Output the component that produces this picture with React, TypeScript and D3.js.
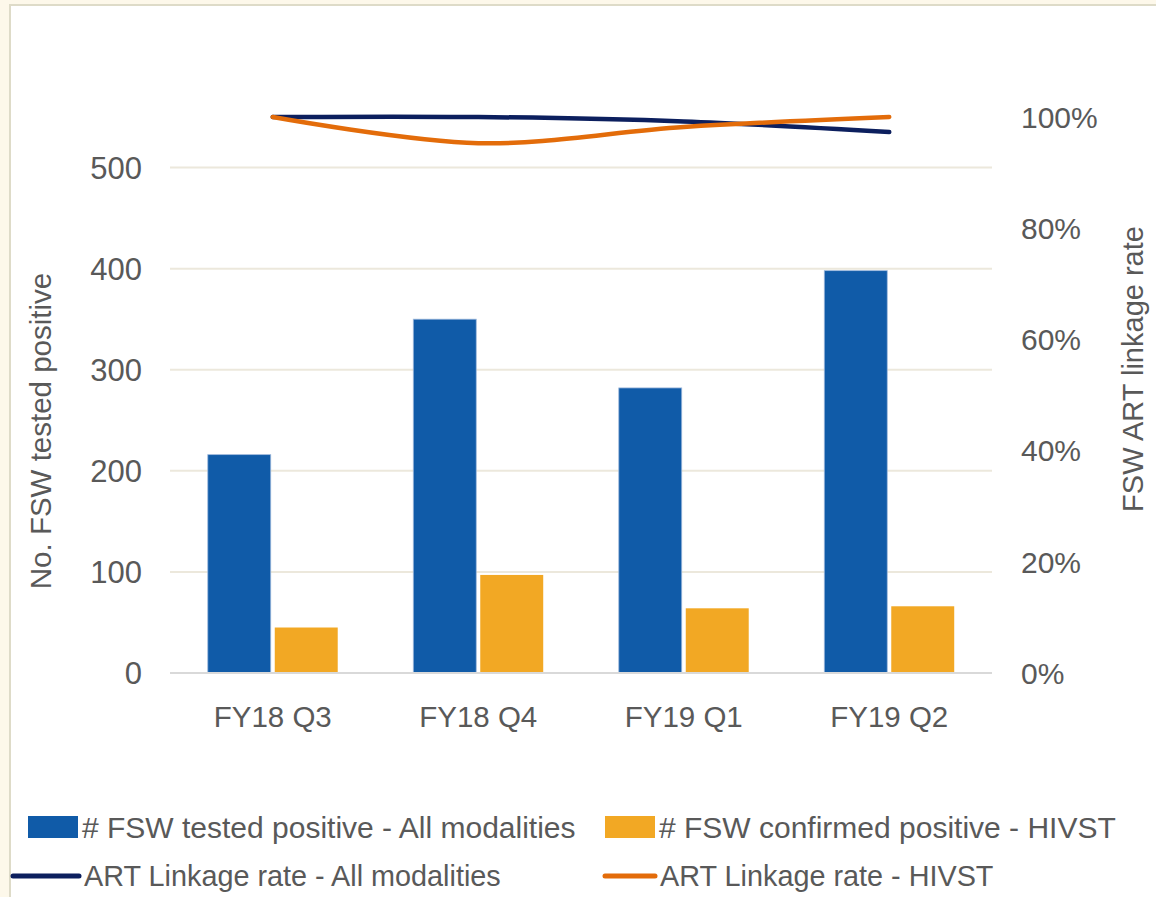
import React, { useEffect, useRef } from "react";
import * as d3 from "d3";

const categories = ["FY18 Q3", "FY18 Q4", "FY19 Q1", "FY19 Q2"];
const testedAll = [216, 350, 282, 398];
const confirmedHivst = [45, 97, 64, 66];
const linkageAll = [1.0, 1.0, 0.992, 0.973];
const linkageHivst = [1.0, 0.953, 0.982, 1.0];
const leftTicks = [0, 100, 200, 300, 400, 500];
const rightTicks = [0, 0.2, 0.4, 0.6, 0.8, 1.0];

const BLUE = "#105ba8";
const GOLD = "#f2a824";
const NAVY = "#0c1f5e";
const ORANGE = "#e36c0a";
const TEXT = "#595959";
const SANS = "'Liberation Sans', Arial, sans-serif";

const App = () => {
  const svgRef = useRef<SVGSVGElement>(null);

  useEffect(() => {
    document.body.style.margin = "0";
    const svg = d3.select(svgRef.current);
    svg.selectAll("*").remove();

    const width = 1156;
    const height = 897;
    svg.attr("width", width).attr("height", height);

    // frame
    svg.append("rect").attr("width", width).attr("height", height).attr("fill", "#fdf8ea");
    svg.append("rect")
      .attr("x", 10).attr("y", 5)
      .attr("width", width).attr("height", height)
      .attr("fill", "#fff")
      .attr("stroke", "#dedbc8")
      .attr("stroke-width", 2);

    const plotLeft = 170;
    const plotRight = 992;
    const plotTop = 117;
    const plotBottom = 673;

    // Scales
    const x = d3.scaleBand().domain(categories).range([plotLeft, plotRight]).padding(0);
    const xInner = d3.scaleBand()
      .domain(["all", "hivst"])
      .range([0, x.bandwidth()])
      .paddingInner(0.06)
      .paddingOuter(0.564);
    const yLeft = d3.scaleLinear().domain([0, 550]).range([plotBottom, plotTop]);
    const yRight = d3.scaleLinear().domain([0, 1]).range([plotBottom, plotTop]);

    // gridlines
    svg.append("g")
      .selectAll("line")
      .data(leftTicks.filter(d => d > 0))
      .enter()
      .append("line")
      .attr("x1", plotLeft).attr("x2", plotRight)
      .attr("y1", d => yLeft(d)).attr("y2", d => yLeft(d))
      .attr("stroke", "#ece8dc")
      .attr("stroke-width", 2);

    // bars
    const groups = svg.append("g")
      .selectAll("g")
      .data(categories)
      .enter()
      .append("g")
      .attr("transform", d => `translate(${x(d)},0)`);

    groups.append("rect")
      .attr("x", xInner("all")!)
      .attr("y", (d, i) => yLeft(testedAll[i]))
      .attr("width", xInner.bandwidth())
      .attr("height", (d, i) => plotBottom - yLeft(testedAll[i]))
      .attr("fill", BLUE)
      .attr("stroke", "#9fb9dc")
      .attr("stroke-width", 0.8);

    groups.append("rect")
      .attr("x", xInner("hivst")!)
      .attr("y", (d, i) => yLeft(confirmedHivst[i]))
      .attr("width", xInner.bandwidth())
      .attr("height", (d, i) => plotBottom - yLeft(confirmedHivst[i]))
      .attr("fill", GOLD);

    // bottom axis line
    svg.append("line")
      .attr("x1", plotLeft).attr("x2", plotRight)
      .attr("y1", plotBottom).attr("y2", plotBottom)
      .attr("stroke", "#d9d9d9")
      .attr("stroke-width", 2);

    // lines
    const cx = (d: string) => x(d)! + x.bandwidth() / 2;
    const line = d3.line<number>()
      .x((d, i) => cx(categories[i]))
      .y(d => yRight(d))
      .curve(d3.curveCatmullRom.alpha(0.5));

    svg.append("path")
      .attr("d", line(linkageAll))
      .attr("fill", "none")
      .attr("stroke", NAVY)
      .attr("stroke-width", 4.5)
      .attr("stroke-linecap", "round");

    svg.append("path")
      .attr("d", line(linkageHivst))
      .attr("fill", "none")
      .attr("stroke", ORANGE)
      .attr("stroke-width", 4.5)
      .attr("stroke-linecap", "round");

    // left ticks
    svg.append("g")
      .selectAll("text")
      .data(leftTicks)
      .enter()
      .append("text")
      .attr("x", 142)
      .attr("y", d => yLeft(d))
      .attr("dy", "0.36em")
      .attr("text-anchor", "end")
      .attr("font-family", SANS)
      .attr("font-size", 31)
      .attr("fill", TEXT)
      .text(d => d);

    // right ticks
    svg.append("g")
      .selectAll("text")
      .data(rightTicks)
      .enter()
      .append("text")
      .attr("x", 1021)
      .attr("y", d => yRight(d))
      .attr("dy", "0.36em")
      .attr("font-family", SANS)
      .attr("font-size", 30)
      .attr("fill", TEXT)
      .text(d => d3.format(".0%")(d));

    // category labels
    svg.append("g")
      .selectAll("text")
      .data(categories)
      .enter()
      .append("text")
      .attr("x", d => cx(d))
      .attr("y", 716)
      .attr("dy", "0.36em")
      .attr("text-anchor", "middle")
      .attr("font-family", SANS)
      .attr("font-size", 29.5)
      .attr("fill", TEXT)
      .text(d => d);

    // axis titles
    svg.append("text")
      .attr("transform", "translate(40,431) rotate(-90)")
      .attr("dy", "0.36em")
      .attr("text-anchor", "middle")
      .attr("font-family", SANS)
      .attr("font-size", 29.5)
      .attr("fill", TEXT)
      .text("No. FSW tested positive");

    svg.append("text")
      .attr("transform", "translate(1133,369) rotate(-90)")
      .attr("dy", "0.36em")
      .attr("text-anchor", "middle")
      .attr("font-family", SANS)
      .attr("font-size", 29)
      .attr("fill", TEXT)
      .text("FSW ART linkage rate");

    // legend
    const legend = svg.append("g");
    const legendItems = [
      { label: "# FSW tested positive - All modalities", color: BLUE, type: "bar", x: 28, y: 827, tx: 82, size: 30 },
      { label: "# FSW confirmed positive - HIVST", color: GOLD, type: "bar", x: 605, y: 827, tx: 659, size: 30 },
      { label: "ART Linkage rate - All modalities", color: NAVY, type: "line", x: 13, y: 876, tx: 84, size: 28.8 },
      { label: "ART Linkage rate - HIVST", color: ORANGE, type: "line", x: 605, y: 876, tx: 660, size: 28.8 },
    ];
    legendItems.forEach(item => {
      if (item.type === "bar") {
        legend.append("rect")
          .attr("x", item.x).attr("y", item.y - 11)
          .attr("width", 50).attr("height", 22)
          .attr("fill", item.color);
      } else {
        legend.append("line")
          .attr("x1", item.x).attr("x2", item.tx - 5)
          .attr("y1", item.y).attr("y2", item.y)
          .attr("stroke", item.color)
          .attr("stroke-width", 5)
          .attr("stroke-linecap", "round");
      }
      legend.append("text")
        .attr("x", item.tx)
        .attr("y", item.y)
        .attr("dy", "0.36em")
        .attr("font-family", SANS)
        .attr("font-size", item.size)
        .attr("fill", TEXT)
        .text(item.label);
    });
  }, []);

  return <svg ref={svgRef} style={{ display: "block" }}></svg>;
};

export default App;
